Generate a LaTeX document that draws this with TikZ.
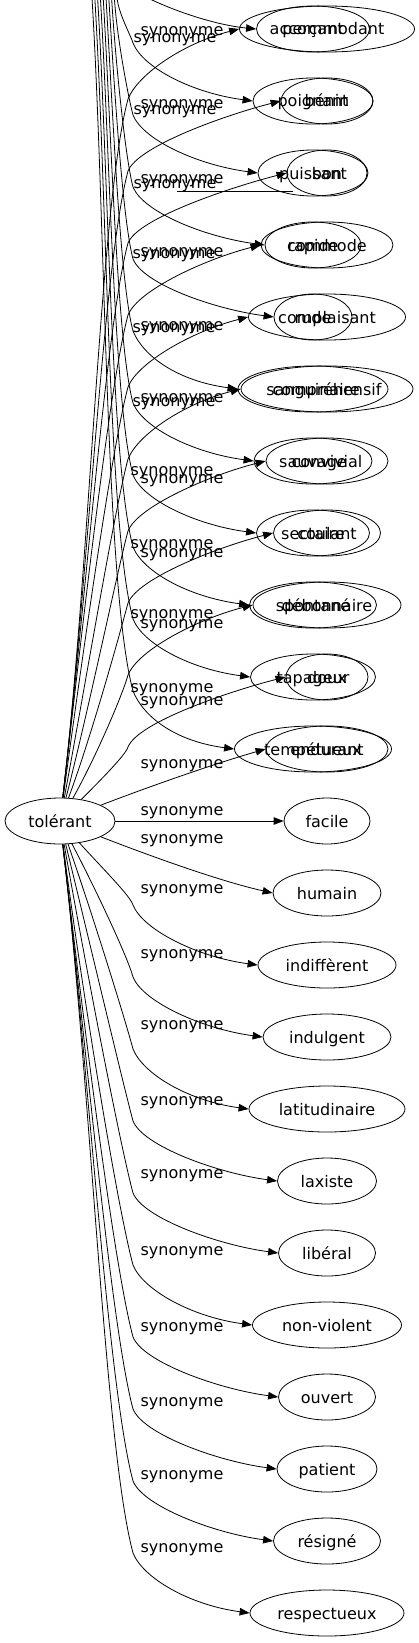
\documentclass[tikz,border=0pt]{standalone}
\usepackage{fontspec}
\setmainfont{DejaVu Sans}
\usetikzlibrary{shapes.geometric,arrows.meta,calc}
\begin{document}
\begin{tikzpicture}[x=1pt,y=-1pt,
  syn/.style={draw, ellipse, line width=0.8pt, inner sep=0pt, minimum height=46pt,
    text height=12pt, text depth=0pt, font=\fontsize{16pt}{19pt}\selectfont},
  lbl/.style={inner sep=0pt, anchor=base, font=\fontsize{16pt}{19pt}\selectfont},
  edge/.style={line width=0.8pt, -{Triangle[length=10pt,width=7.5pt]}},
  plainline/.style={line width=0.8pt}]
\useasboundingbox (0,0) rectangle (419,1643);
\clip (0,0) rectangle (419,1643);

% centre node
\node[syn, minimum width=110pt] (T) at (60,821) {tolérant};

% synonyms of tolérant
\foreach \n/\t/\y/\w in {a0/accommodant/29/175, a1/bénin/101/92, a2/bon/173/80,
  a3/commode/245/132, a4/complaisant/317/157, a5/compréhensif/389/172,
  a6/convivial/461/122, a7/coulant/533/107, a8/débonnaire/605/148,
  a9/doux/677/82, a10/endurant/749/122, a11/facile/821/86, a12/humain/893/108,
  a13/indiffèrent/965/138, a14/indulgent/1037/128, a15/latitudinaire/1109/156,
  a16/laxiste/1181/99, a17/libéral/1253/97, a18/non-violent/1325/149,
  a19/ouvert/1397/97, a20/patient/1469/100, a21/résigné/1541/107,
  a22/respectueux/1613/154}
  \node[syn, minimum width=\w pt] (\n) at (327,\y) {\t};

% second (overlaid) column
\foreach \n/\t/\y/\w in {b0/perçant/29/113, b1/poignant/101/120, b2/puissant/173/110,
  b3/rapide/245/96, b4/rude/317/78, b5/sanguinaire/389/150, b6/sauvage/461/118,
  b7/sectaire/533/113, b8/spontané/605/127, b9/tapageur/677/125,
  b10/tempétueux/749/157}
  \node[syn, minimum width=\w pt] (\n) at (313,\y) {\t};

% edges going up from tolérant
\foreach \i/\y in {0/29,1/101,2/173,3/245,4/317,5/389,6/461,7/533,8/605,9/677} {
  \pgfmathsetmacro\wy{\y+70}
  \pgfmathsetmacro\L{798-\wy}
  \pgfmathsetmacro\cax{62+max(0.04*\L,40-0.05*\L)}
  \pgfmathsetmacro\cay{798-0.33*\L}
  \pgfmathsetmacro\cbx{128-0.04*\L}
  \pgfmathsetmacro\cby{\wy+0.15*\L}
  \draw[edge] (T) .. controls (\cax,\cay) and (\cbx,\cby) .. (128,\wy)
     .. controls (138,\y+45) and ($(a\i.west)+(-55,14)$) .. (a\i.west);
}
\draw[edge] (T) .. controls (140,790) and (210,765) .. (a10.west);
\draw[edge] (T) -- (a11);
\draw[edge] (T) .. controls (140,852) and (215,880) .. (a12.west);

% edges going down from tolérant
\foreach \i/\y in {13/965,14/1037,15/1109,16/1181,17/1253,18/1325,19/1397,20/1469,21/1541,22/1613} {
  \pgfmathsetmacro\wy{\y-60}
  \pgfmathsetmacro\L{\wy-845}
  \pgfmathsetmacro\cax{62+max(0.04*\L,40-0.05*\L)}
  \pgfmathsetmacro\cay{845+0.33*\L}
  \pgfmathsetmacro\cbx{133-0.04*\L}
  \pgfmathsetmacro\cby{\wy-0.15*\L}
  \draw[edge] (T) .. controls (\cax,\cay) and (\cbx,\cby) .. (133,\wy)
     .. controls (143,\y-35) and ($(a\i.west)+(-60,-8)$) .. (a\i.west);
}

% edges of the overlaid column, entering from above
\coordinate (s0) at (140,-6);
\draw[edge] (s0) .. controls (170,10) and (215,25) .. (b0.west);
\foreach \i/\y in {1/101,2/173,3/245,4/317,5/389,6/461,7/533,8/605,9/677,10/749} {
  \pgfmathsetmacro\sx{92+2.8*(10-\i)}
  \coordinate (s\i) at (\sx,-2);
  \pgfmathsetmacro\wy{\y-58}
  \pgfmathsetmacro\L{\wy+2}
  \pgfmathsetmacro\cax{\sx+0.02*\L}
  \pgfmathsetmacro\cay{-2+0.33*\L}
  \pgfmathsetmacro\cbx{133-0.04*\L}
  \pgfmathsetmacro\cby{\wy-0.15*\L}
  \draw[edge] (s\i) .. controls (\cax,\cay) and (\cbx,\cby) .. (133,\wy)
     .. controls (143,\y-33) and ($(b\i.west)+(-60,-8)$) .. (b\i.west);
}

% stray horizontal segment
\coordinate (hA) at (177,191);
\coordinate (hB) at (293,191);
\draw[plainline] (hA) -- (hB);

% edge labels
\foreach \n/\x/\y in {l0/182/31, l1/175/38, l2/182/104, l3/175/110, l4/182/178, l5/175/183,
  l6/182/251, l7/174/253, l8/182/325, l9/174/327, l10/182/397, l11/174/401,
  l12/172/470, l13/182/478, l14/172/543, l15/182/552, l16/172/613, l17/182/623,
  l18/172/687, l19/182/700, l20/182/763, l21/182/810, l22/182/838, l23/182/888,
  l24/182/953, l25/182/1024, l26/182/1100, l27/182/1173, l28/182/1250,
  l29/182/1326, l30/182/1401, l31/182/1474, l32/182/1547}
  \node[lbl] (\n) at (\x,\y+5) {synonyme};
\end{tikzpicture}
\end{document}
